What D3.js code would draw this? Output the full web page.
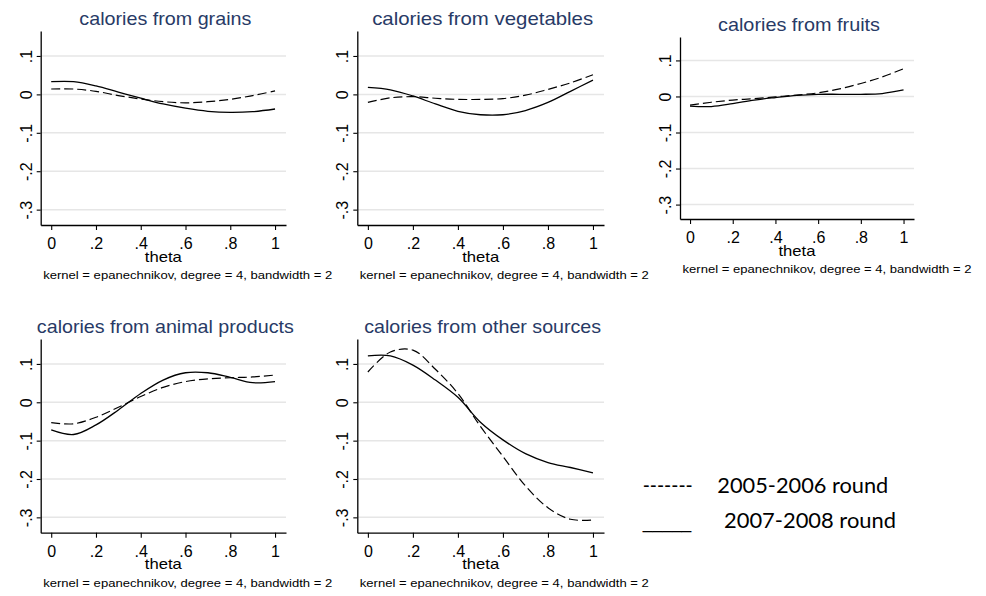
<!DOCTYPE html>
<html>
<head>
<meta charset="utf-8">
<script src="https://cdn.jsdelivr.net/npm/d3@7"></script>
<style>
  html, body { margin: 0; padding: 0; background: #fff; }
  svg { display: block; }
</style>
</head>
<body>
<svg id="chart" width="986" height="596"></svg>
<script>
// Local polynomial smooths of the calorie-share change by theta
const theta = [0, 0.1, 0.2, 0.3, 0.4, 0.5, 0.6, 0.7, 0.8, 0.9, 1.0];

const grains0506 = [0.014, 0.014, 0.008, -0.003, -0.012, -0.019, -0.022, -0.019, -0.013, -0.003, 0.009];
const grains0708 = [0.033, 0.033, 0.022, 0.006, -0.010, -0.025, -0.036, -0.044, -0.047, -0.045, -0.038];

const vegetables0506 = [-0.021, -0.009, -0.006, -0.010, -0.013, -0.013, -0.011, -0.002, 0.013, 0.030, 0.051];
const vegetables0708 = [0.018, 0.012, -0.004, -0.025, -0.044, -0.053, -0.053, -0.042, -0.021, 0.008, 0.037];

const fruits0506 = [-0.024, -0.016, -0.010, -0.006, -0.001, 0.004, 0.010, 0.021, 0.036, 0.054, 0.077];
const fruits0708 = [-0.027, -0.028, -0.020, -0.010, -0.003, 0.003, 0.006, 0.006, 0.006, 0.008, 0.018];

const animal0506 = [-0.053, -0.056, -0.039, -0.013, 0.015, 0.039, 0.054, 0.061, 0.064, 0.066, 0.071];
const animal0708 = [-0.072, -0.084, -0.059, -0.020, 0.023, 0.058, 0.077, 0.077, 0.065, 0.051, 0.054];

const other0506 = [0.079, 0.131, 0.136, 0.086, 0.023, -0.063, -0.141, -0.218, -0.275, -0.305, -0.307];
const other0708 = [0.121, 0.121, 0.097, 0.058, 0.013, -0.052, -0.098, -0.134, -0.157, -0.170, -0.184];

const panelTitles = [
  "calories from grains",
  "calories from vegetables",
  "calories from fruits",
  "calories from animal products",
  "calories from other sources"
];

const xTickValues = [0, 0.2, 0.4, 0.6, 0.8, 1];
const xTickLabels = ["0", ".2", ".4", ".6", ".8", "1"];
const yTickValues = [-0.3, -0.2, -0.1, 0, 0.1];
const yTickLabels = ["-.3", "-.2", "-.1", "0", ".1"];

const xAxisTitle = "theta";
const noteText = "kernel = epanechnikov, degree = 4, bandwidth = 2";
const legendLabels = ["2005-2006 round", "2007-2008 round"];
const legendKeys = ["-------", "_____"];

const seriesByPanel = [
  [grains0506, grains0708],
  [vegetables0506, vegetables0708],
  [fruits0506, fruits0708],
  [animal0506, animal0708],
  [other0506, other0708]
];

// Plot-region frames (left, right, top, bottom) and title geometry per panel
const frames = [
  { l: 40.7, r: 286, t: 31, b: 225, titleY: 25, titleW: 172 },
  { l: 357.3, r: 604, t: 31, b: 225, titleY: 25, titleW: 221 },
  { l: 680, r: 914, t: 37, b: 219, titleY: 31, titleW: 162 },
  { l: 40.7, r: 286, t: 339, b: 532.7, titleY: 333, titleW: 257 },
  { l: 357.3, r: 604, t: 339, b: 532.7, titleY: 333, titleW: 237 }
];

const xDomain = [-0.047, 1.049];
const yDomain = [-0.34, 0.165];

const svg = d3.select("#chart");
const sans = "'Liberation Sans', Arial, Helvetica, sans-serif";
const tickFontSize = 16;

frames.forEach((f, i) => {
  const x = d3.scaleLinear().domain(xDomain).range([f.l, f.r]);
  const y = d3.scaleLinear().domain(yDomain).range([f.b, f.t]);
  const g = svg.append("g");

  // horizontal grid lines at the y ticks
  g.append("g").selectAll("line").data(yTickValues).join("line")
    .attr("x1", f.l).attr("x2", f.r)
    .attr("y1", d => y(d)).attr("y2", d => y(d))
    .attr("stroke", "#e6e6e6").attr("stroke-width", 1.5);

  // x axis
  const xa = g.append("g").attr("transform", `translate(0,${f.b})`)
    .call(d3.axisBottom(x).tickValues(xTickValues)
      .tickFormat((d, k) => xTickLabels[k]).tickSize(5).tickSizeOuter(0))
    .attr("font-family", sans).attr("font-size", tickFontSize);
  xa.select(".domain").attr("stroke", "#000").attr("stroke-width", 1.3);
  xa.selectAll(".tick line").attr("stroke", "#000").attr("stroke-width", 1.1);
  xa.selectAll(".tick text").attr("y", 24).attr("dy", 0)
    .attr("fill", "#000").attr("font-size", tickFontSize);

  // y axis with vertical tick labels
  const ya = g.append("g").attr("transform", `translate(${f.l},0)`)
    .call(d3.axisLeft(y).tickValues(yTickValues)
      .tickFormat((d, k) => yTickLabels[k]).tickSize(4).tickSizeOuter(0))
    .attr("font-family", sans).attr("font-size", tickFontSize);
  ya.select(".domain").attr("stroke", "#000").attr("stroke-width", 1.3);
  ya.selectAll(".tick line").attr("stroke", "#000").attr("stroke-width", 1.1);
  ya.selectAll(".tick text")
    .attr("transform", "rotate(-90)")
    .attr("x", 0).attr("y", -9).attr("dy", 0)
    .attr("text-anchor", "middle")
    .attr("fill", "#000").attr("font-size", tickFontSize);

  // title
  g.append("text")
    .attr("x", (f.l + f.r) / 2 + 2).attr("y", f.titleY)
    .attr("text-anchor", "middle")
    .attr("textLength", f.titleW).attr("lengthAdjust", "spacingAndGlyphs")
    .attr("font-family", sans).attr("font-size", 19)
    .attr("fill", "#283a66")
    .text(panelTitles[i]);

  // x axis title
  g.append("text")
    .attr("x", (f.l + f.r) / 2).attr("y", f.b + 36.5)
    .attr("text-anchor", "middle")
    .attr("textLength", 37).attr("lengthAdjust", "spacingAndGlyphs")
    .attr("font-family", sans).attr("font-size", 15)
    .attr("fill", "#000")
    .text(xAxisTitle);

  // smoother note
  g.append("text")
    .attr("x", f.l + 2.5).attr("y", f.b + 54)
    .attr("textLength", 289).attr("lengthAdjust", "spacingAndGlyphs")
    .attr("font-family", sans).attr("font-size", 10.5)
    .attr("fill", "#000")
    .text(noteText);

  // the two smoothed curves
  const line = d3.line()
    .x((d, k) => x(theta[k]))
    .y(d => y(d))
    .curve(d3.curveCatmullRom.alpha(0.5));

  const [s0506, s0708] = seriesByPanel[i];
  g.append("path").datum(s0506)
    .attr("d", line).attr("fill", "none")
    .attr("stroke", "#000").attr("stroke-width", 1.2)
    .attr("stroke-dasharray", "9,4");
  g.append("path").datum(s0708)
    .attr("d", line).attr("fill", "none")
    .attr("stroke", "#000").attr("stroke-width", 1.3);
});

// legend
const legendFont = "Lato, 'Open Sans', sans-serif";
const legend = svg.append("g").attr("fill", "#000").attr("font-family", legendFont).attr("font-size", 21);
legend.append("text").attr("x", 642.7).attr("y", 492.5)
  .attr("textLength", 50).attr("lengthAdjust", "spacingAndGlyphs").text(legendKeys[0]);
legend.append("text").attr("x", 717.3).attr("y", 492.5)
  .attr("textLength", 171).attr("lengthAdjust", "spacingAndGlyphs").text(legendLabels[0]);
legend.append("text").attr("x", 642.7).attr("y", 527.5)
  .attr("font-family", sans).attr("font-size", 17.5)
  .text(legendKeys[1]);
legend.append("text").attr("x", 724).attr("y", 527.5)
  .attr("textLength", 172).attr("lengthAdjust", "spacingAndGlyphs").text(legendLabels[1]);
</script>
</body>
</html>
